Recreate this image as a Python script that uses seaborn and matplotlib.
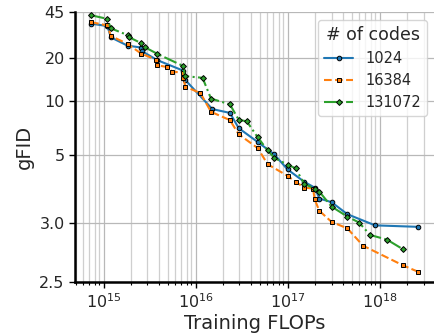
import matplotlib
matplotlib.use("Agg")
import matplotlib.pyplot as plt
import matplotlib.ticker as mticker
import numpy as np
import pandas as pd
import seaborn as sns

# training FLOPs / gFID per codebook size
flops_1024 = [7.31e14, 1.10e15, 1.20e15, 1.82e15, 2.56e15, 2.62e15, 3.84e15, 7.33e15,
              7.65e15, 1.52e16, 2.36e16, 2.94e16, 4.73e16, 7.17e16, 1.00e17, 1.52e17,
              1.99e17, 2.21e17, 3.00e17, 4.46e17, 8.93e17, 2.64e18]
fid_1024 = [36.7, 35.1, 28.7, 24.8, 24.0, 22.5, 19.3, 16.2, 14.0, 8.91, 8.44, 6.87,
            5.79, 5.04, 4.34, 3.90, 3.72, 3.45, 3.37, 3.14, 2.97, 2.95]

flops_16384 = [7.31e14, 1.10e15, 1.20e15, 1.82e15, 2.56e15, 3.70e15, 3.84e15, 4.91e15,
               5.59e15, 7.30e15, 7.35e15, 7.74e15, 1.13e16, 1.47e16, 2.36e16, 2.94e16,
               4.73e16, 6.07e16, 1.00e17, 1.22e17, 1.52e17, 1.89e17, 1.97e17, 2.21e17,
               3.00e17, 4.46e17, 6.61e17, 1.78e18, 2.64e18]
fid_16384 = [37.7, 35.5, 29.4, 25.6, 21.6, 19.5, 17.7, 17.2, 15.9, 15.7, 14.3, 12.5,
             11.3, 8.57, 7.64, 6.36, 5.40, 4.56, 4.10, 3.90, 3.73, 3.70, 3.43, 3.20,
             3.02, 2.93, 2.74, 2.59, 2.55]

flops_131072 = [7.31e14, 1.10e15, 1.20e15, 1.82e15, 1.89e15, 2.56e15, 2.79e15, 3.84e15,
                7.33e15, 7.65e15, 1.19e16, 1.47e16, 2.36e16, 2.94e16, 3.60e16, 4.73e16,
                6.07e16, 7.17e16, 1.00e17, 1.22e17, 1.52e17, 1.99e17, 2.21e17, 3.00e17,
                4.46e17, 5.98e17, 7.88e17, 1.20e18, 1.78e18]
fid_131072 = [42.7, 40.0, 33.7, 29.9, 28.8, 25.9, 24.2, 21.5, 17.5, 14.8, 14.4, 10.4,
              9.54, 7.68, 7.51, 6.13, 5.26, 4.86, 4.54, 4.39, 3.83, 3.70, 3.62, 3.28,
              3.10, 3.01, 2.85, 2.80, 2.71]

y_ticks = [2.5, 3.0, 5, 10, 20, 45]
y_ticklabels = ["2.5", "3.0", "5", "10", "20", "45"]
FID_FLOOR = 2.26

series = [
    ("1024", flops_1024, fid_1024, "tab:blue", "-", "o", 3.3),
    ("16384", flops_16384, fid_16384, "tab:orange", "--", "s", 3.3),
    ("131072", flops_131072, fid_131072, "tab:green", "-.", "D", 3.0),
]

sns.set_style("whitegrid", {
    "axes.edgecolor": "black",
    "xtick.bottom": True,
    "ytick.left": True,
    "grid.color": "#c4c4c4",
})
plt.rcParams["font.family"] = ["DejaVu Sans"]

fig = plt.figure(figsize=(4.34, 3.35), dpi=100)
ax = fig.add_axes([0.173, 0.159, 0.827, 0.804])

for name, xs, ys, color, ls, marker, ms in series:
    df = pd.DataFrame({"flops": xs, "fid": ys})
    sns.lineplot(data=df, x="flops", y="fid", ax=ax, estimator=None, sort=False,
                 color=color, linestyle=ls, marker=marker, markersize=ms,
                 markeredgecolor="black", markeredgewidth=0.7, linewidth=1.5,
                 label=name)


def fwd(y):
    return np.log10(np.maximum(np.asarray(y, dtype=float) - FID_FLOOR, 1e-6))


def inv(u):
    return 10 ** np.asarray(u, dtype=float) + FID_FLOOR


ax.set_xscale("log")
ax.set_yscale("function", functions=(fwd, inv))
ax.set_xlim(4.9e14, 3.9e18)
ax.set_ylim(2.5, 45)
ax.yaxis.set_major_locator(mticker.FixedLocator(y_ticks))
ax.yaxis.set_major_formatter(mticker.FixedFormatter(y_ticklabels))
ax.yaxis.set_minor_locator(mticker.NullLocator())
ax.xaxis.set_major_locator(mticker.LogLocator(base=10, numticks=10))
ax.xaxis.set_minor_locator(mticker.LogLocator(base=10, subs=np.arange(2, 10), numticks=20))
ax.xaxis.set_minor_formatter(mticker.NullFormatter())

ax.grid(True, which="major", color="#b8b8b8", linewidth=0.9)
ax.grid(True, which="minor", axis="x", color="#cfcfcf", linewidth=0.9)

for side in ["top", "right"]:
    ax.spines[side].set_visible(False)
for side in ["left", "bottom"]:
    ax.spines[side].set_linewidth(1.8)
    ax.spines[side].set_color("black")

ax.tick_params(axis="both", which="major", labelsize=11.5, length=4, width=1, color="black")
ax.tick_params(axis="x", which="minor", length=2.5, width=0.8, color="black")

ax.set_xlabel("Training FLOPs", fontsize=14, labelpad=2)
ax.set_ylabel("gFID", fontsize=14, labelpad=4)

ax.legend(title="# of codes", loc="upper right", fontsize=10.5, title_fontsize=12.5,
          frameon=True, borderaxespad=0.5)

fig.savefig("out.png", dpi=100)
